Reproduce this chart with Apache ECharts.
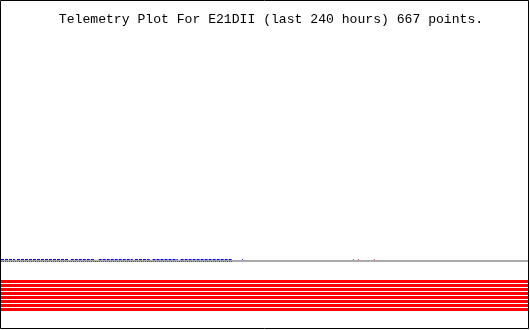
<!DOCTYPE html>
<html>
<head>
<meta charset="utf-8">
<script src="https://cdn.jsdelivr.net/npm/echarts@6/dist/echarts.min.js"></script>
<style>html,body{margin:0;padding:0;background:#fff}#c{width:530px;height:330px}</style>
</head>
<body>
<div id="c"></div>
<script>
// ---- data (hours over last 240 h, arbitrary telemetry units) ----
var titleText = 'Telemetry Plot For E21DII (last 240 hours) 667 points.';
var hourRange = [0, 240];
var valueRange = [0, 327];
// baseline (light gray) trace
var baseHours = [0, 240];
var baseValue = 67;
// dark gray dotted trace
var grayHours = [0, 105.5];
var grayValue = 66.5;
// blue trace segments [start, end] hours
var blueSegments = [[0, 6.4], [7.3, 30.5], [31.8, 42.7], [44.5, 60], [61, 67.7], [69, 80.5], [81.8, 96], [96.4, 105.3]];
var blueSingles = [110];
var blueValue = 68.5;
// red single points
var redHours = [160.5, 162.7, 170];
var redValue = 68.5;
// red stripe traces
var stripeValues = [46.5, 42.5, 38.5, 34.5, 30.5, 26.5, 22.5, 18.5];

var chart = echarts.init(document.getElementById('c'), null, {renderer: 'canvas'});

var blueData = [];
blueSegments.forEach(function (s, i) {
  if (i > 0) blueData.push([s[0], null]);
  blueData.push([s[0], blueValue]);
  blueData.push([s[1], blueValue]);
});

var series = [];
stripeValues.forEach(function (v) {
  series.push({type: 'line', data: [[hourRange[0], v], [hourRange[1], v]], symbol: 'none',
    lineStyle: {color: '#ff0000', width: 3}, silent: true, animation: false});
});
series.push({type: 'line', data: baseHours.map(function (h) { return [h, baseValue]; }), symbol: 'none',
  lineStyle: {color: '#aaaaaa', width: 2}, animation: false});
series.push({type: 'line', data: grayHours.map(function (h) { return [h, grayValue]; }), symbol: 'none',
  lineStyle: {color: '#555555', width: 1, type: [1, 1]}, animation: false});
series.push({type: 'line', data: blueData, symbol: 'none', connectNulls: false,
  lineStyle: {color: '#0000ff', width: 1, type: [3, 1]}, animation: false});
series.push({type: 'scatter', data: blueSingles.map(function (h) { return [h, blueValue]; }), symbol: 'rect', symbolSize: 1,
  itemStyle: {color: '#0000ff'}, animation: false});
series.push({type: 'scatter', data: redHours.map(function (h) { return [h, redValue]; }), symbol: 'rect', symbolSize: 1,
  itemStyle: {color: '#ff0000'}, animation: false});

chart.setOption({
  animation: false,
  backgroundColor: '#ffffff',
  title: {text: titleText, left: 266, top: 8, textAlign: 'center',
    textStyle: {fontFamily: 'Liberation Mono', fontSize: 13.1, fontWeight: 'normal', color: '#000'}},
  grid: {left: 1, right: 2, top: 1, bottom: 2},
  xAxis: {type: 'value', min: hourRange[0], max: hourRange[1], show: false},
  yAxis: {type: 'value', min: valueRange[0], max: valueRange[1], show: false},
  graphic: [{type: 'rect', shape: {x: 0.5, y: 0.5, width: 528, height: 328},
    style: {fill: null, stroke: '#000', lineWidth: 1}, z: 100}],
  series: series
});
</script>
</body>
</html>
